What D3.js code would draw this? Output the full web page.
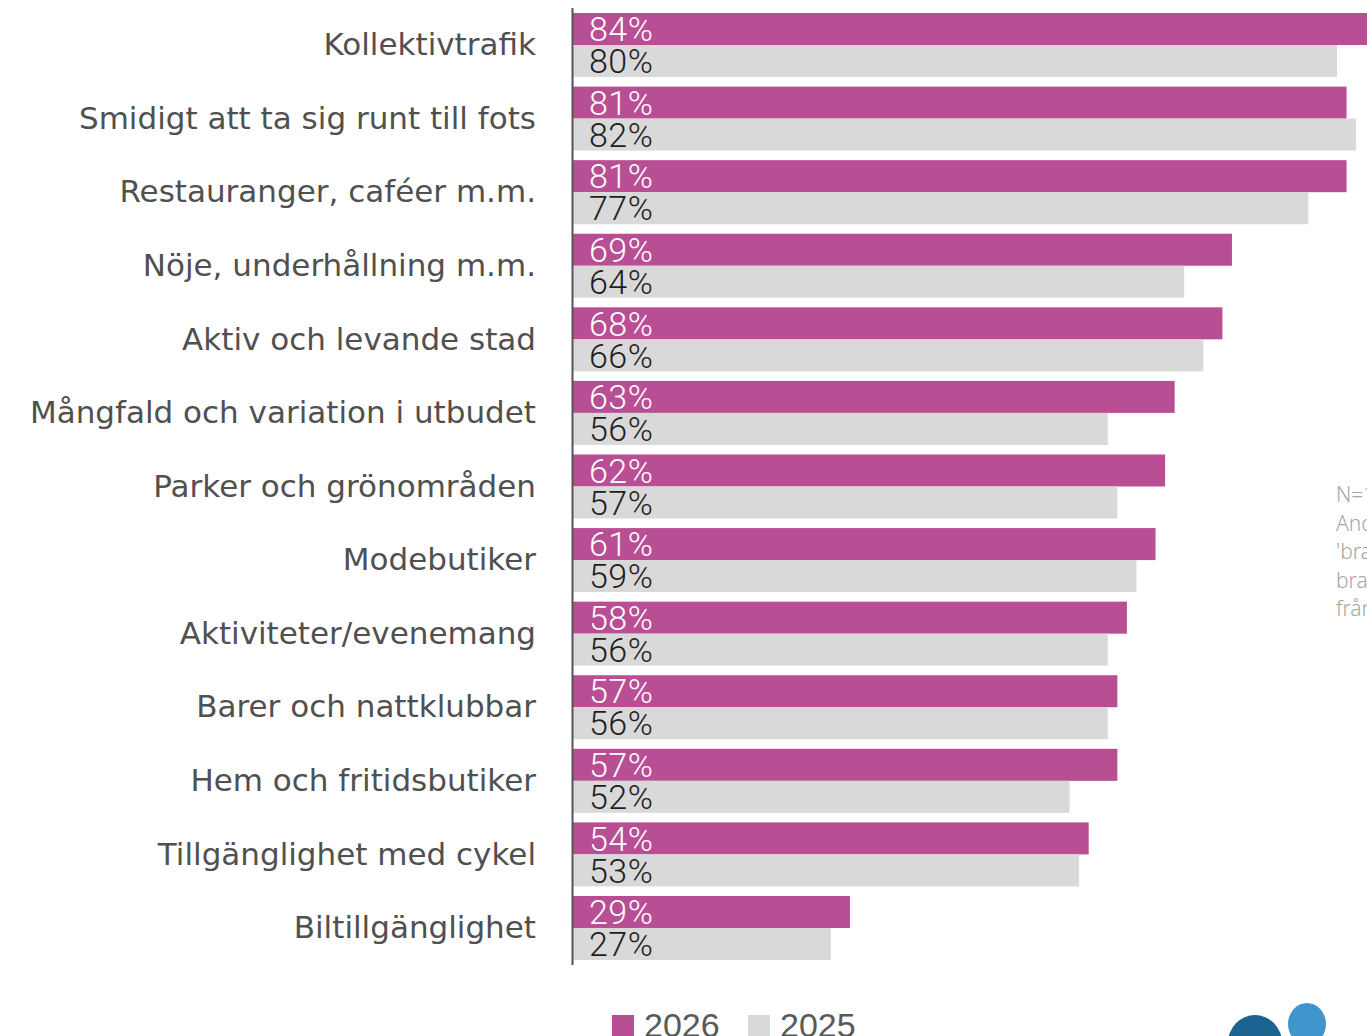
<!DOCTYPE html>
<html>
<head>
<meta charset="utf-8">
<style>
  body { margin: 0; background: #fff; overflow: hidden; }
  .cat { font-family: "DejaVu Sans", "Noto Sans", sans-serif; fill: #505050; }
  .val { font-family: Roboto, "Noto Sans", sans-serif; font-weight: 300; letter-spacing: 0.5px; }
  .note { font-family: "Noto Sans", sans-serif; font-weight: 300; fill: #a6a6a6; }
</style>
</head>
<body>
<div id="chart"></div>
<script src="https://d3js.org/d3.v7.min.js"></script>
<script>
  var categories = ["Kollektivtrafik", "Smidigt att ta sig runt till fots", "Restauranger, caféer m.m.",
    "Nöje, underhållning m.m.", "Aktiv och levande stad", "Mångfald och variation i utbudet",
    "Parker och grönområden", "Modebutiker", "Aktiviteter/evenemang", "Barer och nattklubbar",
    "Hem och fritidsbutiker", "Tillgänglighet med cykel", "Biltillgänglighet"];
  var values2026 = [84, 81, 81, 69, 68, 63, 62, 61, 58, 57, 57, 54, 29];
  var values2025 = [80, 82, 77, 64, 66, 56, 57, 59, 56, 56, 52, 53, 27];
  var seriesNames = ["2026", "2025"];
  var noteLines = ["N=1000", "Andel som svarat", "'bra' eller 'mycket", "bra' på frågan", "från respondenter"];

  var width = 1367, height = 1036;
  var colors = {"2026": "#b84e94", "2025": "#d9d9d9"};

  var svg = d3.select("#chart").append("svg")
      .attr("width", width)
      .attr("height", height);

  var x = d3.scaleLinear().domain([0, 100]).range([573, 573 + 955]);
  var y = d3.scaleBand().domain(categories).range([8, 965]).paddingInner(0.13).paddingOuter(0.068);
  var sub = d3.scaleBand().domain(seriesNames).range([0, y.bandwidth()]);

  var rows = categories.map(function(c, i) {
    return {cat: c, vals: [{s: "2026", v: values2026[i]}, {s: "2025", v: values2025[i]}]};
  });

  var g = svg.selectAll(".row").data(rows).enter().append("g")
      .attr("class", "row")
      .attr("transform", function(d) { return "translate(0," + y(d.cat) + ")"; });

  g.selectAll("rect").data(function(d) { return d.vals; }).enter().append("rect")
      .attr("x", x(0))
      .attr("y", function(d) { return sub(d.s); })
      .attr("width", function(d) { return x(d.v) - x(0); })
      .attr("height", sub.bandwidth())
      .style("fill", function(d) { return colors[d.s]; });

  g.selectAll(".val").data(function(d) { return d.vals; }).enter().append("text")
      .attr("class", "val")
      .attr("x", x(0) + 16)
      .attr("y", function(d) { return sub(d.s) + sub.bandwidth() / 2; })
      .attr("dy", "0.36em")
      .attr("font-size", "34px")
      .style("fill", function(d) { return d.s === "2026" ? "#ffffff" : "#1e1e1e"; })
      .text(function(d) { return d.v + "%"; });

  g.append("text")
      .attr("class", "cat")
      .attr("x", 536)
      .attr("y", y.bandwidth() / 2)
      .attr("dy", "0.33em")
      .attr("text-anchor", "end")
      .attr("font-size", "31px")
      .text(function(d) { return d.cat; });

  // vertical axis line
  svg.append("line")
      .attr("x1", x(0) - 0.5).attr("x2", x(0) - 0.5)
      .attr("y1", 8).attr("y2", 965)
      .style("stroke", "#555").style("stroke-width", 2);

  // note at right edge (cut off in the original)
  svg.append("g").selectAll("text").data(noteLines).enter().append("text")
      .attr("class", "note")
      .attr("x", 1336)
      .attr("y", function(d, i) { return 502 + i * 28.6; })
      .attr("font-size", "21px")
      .text(function(d) { return d; });

  // legend
  var legend = svg.selectAll(".legend").data(seriesNames).enter().append("g")
      .attr("class", "legend")
      .attr("transform", function(d, i) { return "translate(" + (612 + i * 136) + ",1015)"; });
  legend.append("rect").attr("width", 22).attr("height", 22).style("fill", function(d) { return colors[d]; });
  legend.append("text")
      .attr("x", 32).attr("y", 22)
      .attr("font-family", "'Liberation Sans Narrow', 'Arial Narrow', sans-serif")
      .attr("font-size", "34px")
      .style("fill", "#595959")
      .text(function(d) { return d; });

  // logo shapes
  svg.append("ellipse").attr("cx", 1255).attr("cy", 1043).attr("rx", 27).attr("ry", 28).style("fill", "#1b6391");
  svg.append("ellipse").attr("cx", 1307).attr("cy", 1024).attr("rx", 19).attr("ry", 21).style("fill", "#4096cc");
</script>
</body>
</html>
